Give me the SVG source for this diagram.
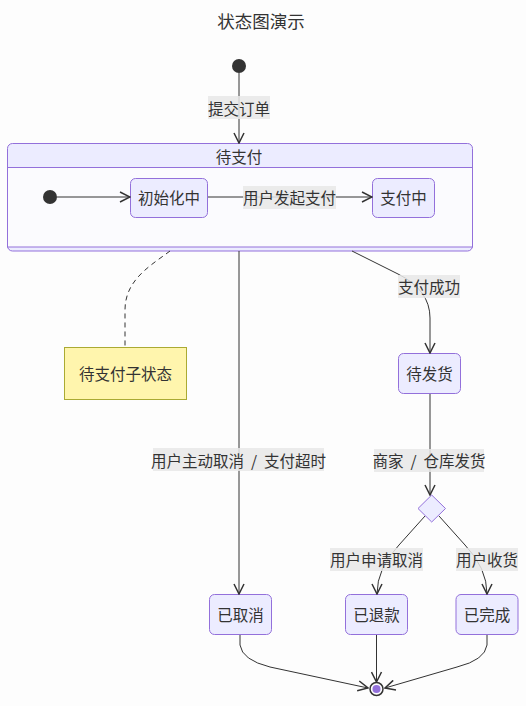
<svg xmlns="http://www.w3.org/2000/svg" width="526" height="706" viewBox="0 0 526 706">
<defs>
<marker id="arr" viewBox="0 0 12 12" refX="11" refY="6" markerWidth="12" markerHeight="12" markerUnits="userSpaceOnUse" orient="auto">
<path d="M1,1 L11,6 L1,11" fill="none" stroke="#333" stroke-width="1.5"/>
</marker>
<style>
text{font-family:"Noto Sans CJK SC","Liberation Sans",sans-serif;fill:#333;font-size:15.5px;text-anchor:middle;dominant-baseline:central;white-space:pre}
.node rect,.node polygon{fill:#ECECFF;stroke:#9370DB;stroke-width:1}
.edge{fill:none;stroke:#333;stroke-width:1}
.lbl{fill:#e8e8e8;fill-opacity:0.85}
.start{fill:#333}
</style>
</defs>
<rect width="526" height="706" fill="#fdfdfd"/>
<text x="261" y="20" style="font-size:17.5px">状态图演示</text>

<g id="start"><circle class="start" cx="239" cy="66" r="7"/></g>

<g id="pending-payment" class="node">
<rect x="7.5" y="143.5" width="465" height="107.5" rx="5"/>
<rect x="7.5" y="167.5" width="465" height="79.5" style="fill:#fbfbfe"/>
<text x="239" y="156">待支付</text>
</g>
<g id="inner-start"><circle class="start" cx="50" cy="197" r="7"/></g>
<g id="initializing" class="node">
<rect x="130.5" y="178.5" width="77" height="39" rx="5"/>
<text x="169" y="197">初始化中</text>
</g>
<g id="paying" class="node">
<rect x="372.5" y="178.5" width="62" height="39" rx="5"/>
<text x="403.5" y="197">支付中</text>
</g>

<g id="note">
<rect x="64.5" y="347.5" width="122" height="52" fill="#fff5ad" stroke="#aaaa33" stroke-width="1"/>
<text x="125.5" y="373">待支付子状态</text>
</g>

<g id="awaiting-shipment" class="node">
<rect x="398.5" y="353.5" width="62" height="40" rx="5"/>
<text x="429.5" y="373">待发货</text>
</g>

<g id="choice" class="node">
<polygon points="431.7,495 445.5,508.5 431.7,522 418,508.5"/>
</g>

<g id="cancelled" class="node">
<rect x="209.5" y="594.5" width="62" height="40" rx="5"/>
<text x="240.5" y="614">已取消</text>
</g>
<g id="refunded" class="node">
<rect x="345.5" y="594.5" width="62" height="40" rx="5"/>
<text x="376.5" y="614">已退款</text>
</g>
<g id="completed" class="node">
<rect x="456" y="594.5" width="62" height="40" rx="5"/>
<text x="487" y="614">已完成</text>
</g>

<g id="end">
<circle cx="376.5" cy="689" r="6.5" fill="#fdfdfd" stroke="#333" stroke-width="1.5"/>
<circle cx="376.5" cy="689" r="4" fill="#9370DB"/>
</g>

<g id="connectors">
<path class="edge" d="M239,73 L239,143" marker-end="url(#arr)"/>
<path class="edge" d="M57,197 L130,197" marker-end="url(#arr)"/>
<path class="edge" d="M208,197 L372,197" marker-end="url(#arr)"/>
<path class="edge" d="M170,251 C150,266 125,280 125,310 L125,347" stroke-dasharray="5,4"/>
<path class="edge" d="M239,251 L239,594" marker-end="url(#arr)"/>
<path class="edge" d="M352,251 L398,274 Q430,290 430,318 L430,353" marker-end="url(#arr)"/>
<path class="edge" d="M430,394 L430,495" marker-end="url(#arr)"/>
<path class="edge" d="M425,516 L399,545 Q377,568 377,594" marker-end="url(#arr)"/>
<path class="edge" d="M439,516 L465,545 Q487,568 487,594" marker-end="url(#arr)"/>
<path class="edge" d="M240,635 L240,645 Q242,660 270,667 L368,688" marker-end="url(#arr)"/>
<path class="edge" d="M376.5,635 L376.5,682" marker-end="url(#arr)"/>
<path class="edge" d="M487,635 L487,645 Q485,660 457,667 L385,688" marker-end="url(#arr)"/>
</g>

<g id="labels">
<rect class="lbl" x="208" y="96" width="62" height="23"/>
<text x="239" y="107.5">提交订单</text>
<rect class="lbl" x="243" y="186" width="93" height="23"/>
<text x="289.5" y="197">用户发起支付</text>
<rect class="lbl" x="398" y="275" width="62" height="23"/>
<text x="429" y="286">支付成功</text>
<rect class="lbl" x="153" y="448" width="171" height="23"/>
<text x="238.5" y="459.5">用户主动取消  /  支付超时</text>
<rect class="lbl" x="374" y="449" width="110" height="23"/>
<text x="429" y="460">商家  /  仓库发货</text>
<rect class="lbl" x="330" y="548" width="93" height="23"/>
<text x="376.5" y="559">用户申请取消</text>
<rect class="lbl" x="456" y="548" width="62" height="23"/>
<text x="487" y="559">用户收货</text>
</g>
</svg>
